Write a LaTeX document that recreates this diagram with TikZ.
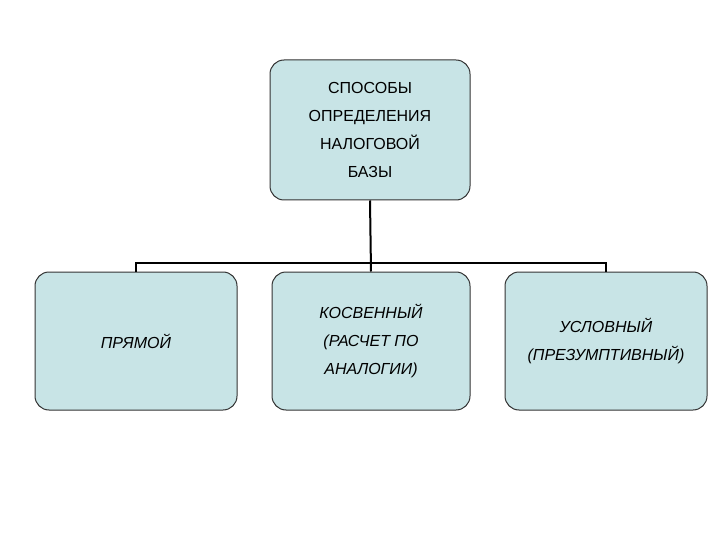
\documentclass[tikz,border=0pt]{standalone}
\usepackage{fontspec}
\setmainfont{Liberation Sans}
\begin{document}
\begin{tikzpicture}[x=1pt,y=-1pt,
  box/.style={draw=black!80,line width=1pt,fill={rgb,255:red,200;green,228;blue,230},rounded corners=14pt,align=center,inner sep=0pt,font=\fontsize{16}{28}\selectfont},
  ln/.style={line width=2pt,black}]
\useasboundingbox (0,0) rectangle (720,540);
\node[box,minimum width=200pt,minimum height=140pt] (top) at (370,130) {СПОСОБЫ\\ОПРЕДЕЛЕНИЯ\\НАЛОГОВОЙ\\БАЗЫ};
\node[box,minimum width=202pt,minimum height=138pt,font=\fontsize{16}{28}\selectfont\itshape] (a) at (136,341) {ПРЯМОЙ};
\node[box,minimum width=198pt,minimum height=138pt,font=\fontsize{16}{28}\selectfont\itshape] (b) at (371,341) {КОСВЕННЫЙ\\(РАСЧЕТ ПО\\АНАЛОГИИ)};
\node[box,minimum width=202pt,minimum height=138pt,font=\fontsize{16}{28}\selectfont\itshape] (c) at (606,341) {УСЛОВНЫЙ\\(ПРЕЗУМПТИВНЫЙ)};
\coordinate (h) at (370,263);
\draw[ln] (top.south) -- (b.north);
\draw[ln] (a.north) -- ++(0,-9) -| (c.north);
\end{tikzpicture}
\end{document}
